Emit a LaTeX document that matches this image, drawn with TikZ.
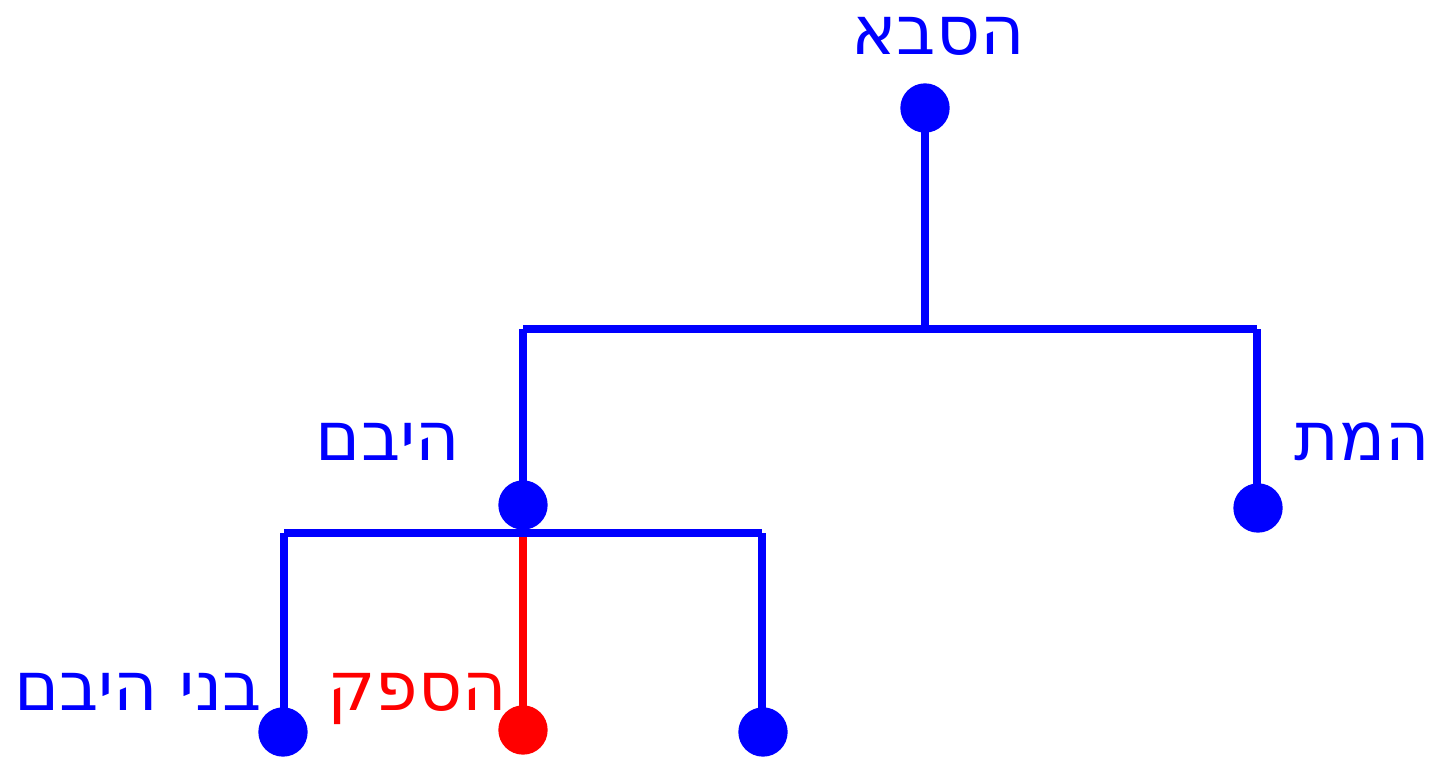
\documentclass[tikz,border=0pt]{standalone}
\usepackage{fontspec}
\setmainfont{DejaVu Sans}
\newfontfamily\hebfont[Script=Hebrew]{DejaVu Sans}
\TeXXeTstate=1
\begin{document}
\begin{tikzpicture}[x=0.75pt,y=-0.75pt]
\useasboundingbox (0,0) rectangle (1438,763);
\definecolor{myblue}{RGB}{0,0,255}
\definecolor{myred}{RGB}{255,0,0}
\tikzset{
  dot/.style={circle,fill=#1,minimum size=37pt,inner sep=0pt},
  edge/.style={draw=#1,line width=5.3pt},
  lbl/.style={anchor=base,text=#1,font=\fontsize{51}{60}\selectfont\hebfont,inner sep=0pt}
}
% coordinates
\coordinate (top) at (925,329);
\coordinate (hl) at (523,329);
\coordinate (hr) at (1257,329);
\coordinate (ll) at (284,533);
\coordinate (lm) at (523,533);
\coordinate (lr) at (762,533);
% edges
\draw[edge=myblue] (925,108) -- (top);
\draw[edge=myblue] (hl) -- (hr);
\draw[edge=myblue] (hl) -- (523,505);
\draw[edge=myblue] (hr) -- (1257,508);
\draw[edge=myblue] (ll) -- (lr);
\draw[edge=myblue] (ll) -- (284,732);
\draw[edge=myblue] (lr) -- (762,732);
\draw[edge=myred] (523,537) -- (523,730);
% dots
\node[dot=myblue] (gf) at (925,108) {};
\node[dot=myblue] (yb) at (523,505) {};
\node[dot=myblue] (mt) at (1258,508) {};
\node[dot=myblue] (c1) at (283,732) {};
\node[dot=myred] (c2) at (523,730) {};
\node[dot=myblue] (c3) at (763,732) {};
% labels
\node[lbl=myblue] (t1) at (938,55) {\beginR הסבא\endR};
\node[lbl=myblue] (t2) at (388,460) {\beginR היבם\endR};
\node[lbl=myblue] (t3) at (1362,460) {\beginR המת\endR};
\node[lbl=myblue] (t4) at (138,710) {\beginR בני היבם\endR};
\node[lbl=myred] (t5) at (417,710) {\beginR הספק\endR};
\end{tikzpicture}
\end{document}
